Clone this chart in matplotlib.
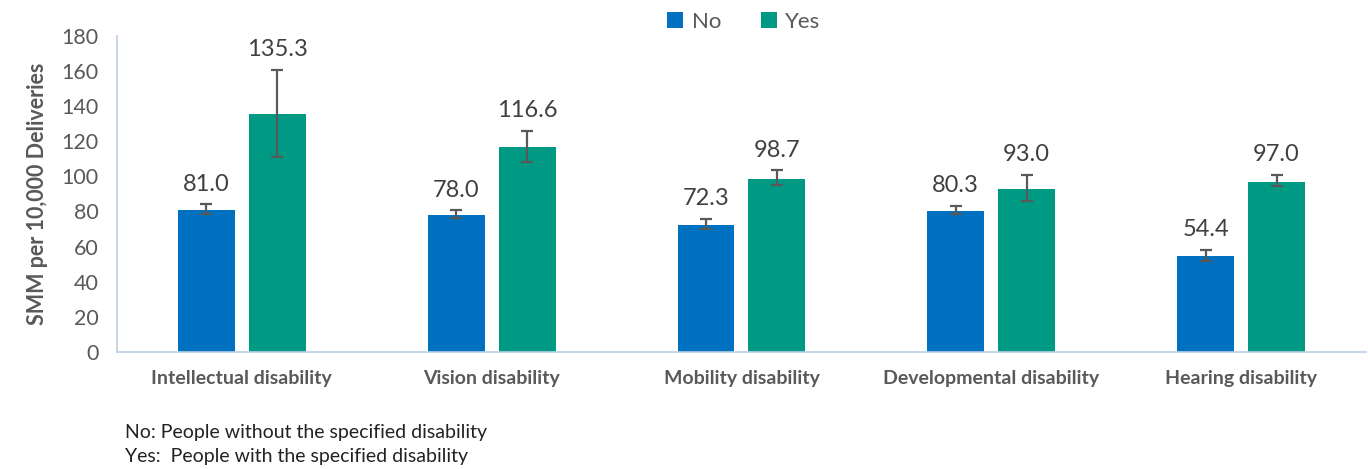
import numpy as np
import matplotlib.pyplot as plt

plt.rcParams['font.family'] = ['Lato', 'DejaVu Sans']

categories = ["Intellectual disability", "Vision disability", "Mobility disability",
              "Developmental disability", "Hearing disability"]
no_vals = [81.0, 78.0, 72.3, 80.3, 54.4]
yes_vals = [135.3, 116.6, 98.7, 93.0, 97.0]
# confidence interval bounds
no_low = [78.8, 76.2, 70.1, 78.5, 51.6]
no_high = [84.0, 80.7, 75.6, 83.2, 58.3]
yes_low = [111.0, 108.4, 94.9, 86.1, 94.5]
yes_high = [160.5, 125.9, 103.4, 101.0, 100.7]

c_no = "#0070C0"
c_yes = "#009A84"
grey = "#595959"

fig = plt.figure(figsize=(13.68, 4.69), dpi=100)
ax = fig.add_axes([0.0855, 0.2495, 0.913, 0.674])

x = np.arange(len(categories))
w = 0.228
off = 0.142

for vals, low, high, col, pos, lab in [(no_vals, no_low, no_high, c_no, x - off, "No"),
                                       (yes_vals, yes_low, yes_high, c_yes, x + off, "Yes")]:
    vals = np.array(vals)
    err = [vals - np.array(low), np.array(high) - vals]
    ax.bar(pos, vals, w, color=col, label=lab, zorder=2)
    ax.errorbar(pos, vals, yerr=err, fmt="none", ecolor=grey, elinewidth=1.6,
                capsize=4.5, capthick=1.6, zorder=3)
    for px, v, h in zip(pos, vals, high):
        ax.annotate(f"{v:.1f}", (px, h), xytext=(0, 7), textcoords="offset points",
                    ha="center", va="bottom", fontsize=17, color="#404040")

ax.set_xlim(-0.5, len(categories) - 0.5)
ax.set_ylim(0, 180)
ax.set_yticks(np.arange(0, 181, 20))
ax.tick_params(axis="y", length=0, labelsize=15.5, labelcolor=grey, pad=13)
ax.tick_params(axis="x", length=0, pad=13)
ax.set_xticks(x)
ax.set_xticklabels(categories, fontsize=14, fontweight="bold", color=grey)
ax.set_ylabel("SMM per 10,000 Deliveries", fontsize=15.5, fontweight="bold", color=grey, labelpad=10)

for s in ["top", "right"]:
    ax.spines[s].set_visible(False)
for s in ["left", "bottom"]:
    ax.spines[s].set_color("#BDD0E6")
    ax.spines[s].set_linewidth(1.2)

ax.legend(loc="upper center", bbox_to_anchor=(0.502, 1.14), ncol=2, frameon=False,
          fontsize=16, handlelength=0.7, handleheight=0.7, columnspacing=1.8,
          handletextpad=0.4, labelcolor=grey)

fig.text(0.0914, 1 - 432 / 469, "No: People without the specified disability",
         fontsize=14, color="#222222", va="center")
fig.text(0.0914, 1 - 456 / 469, "Yes:  People with the specified disability",
         fontsize=14, color="#222222", va="center")

fig.savefig("out.png", dpi=100)
